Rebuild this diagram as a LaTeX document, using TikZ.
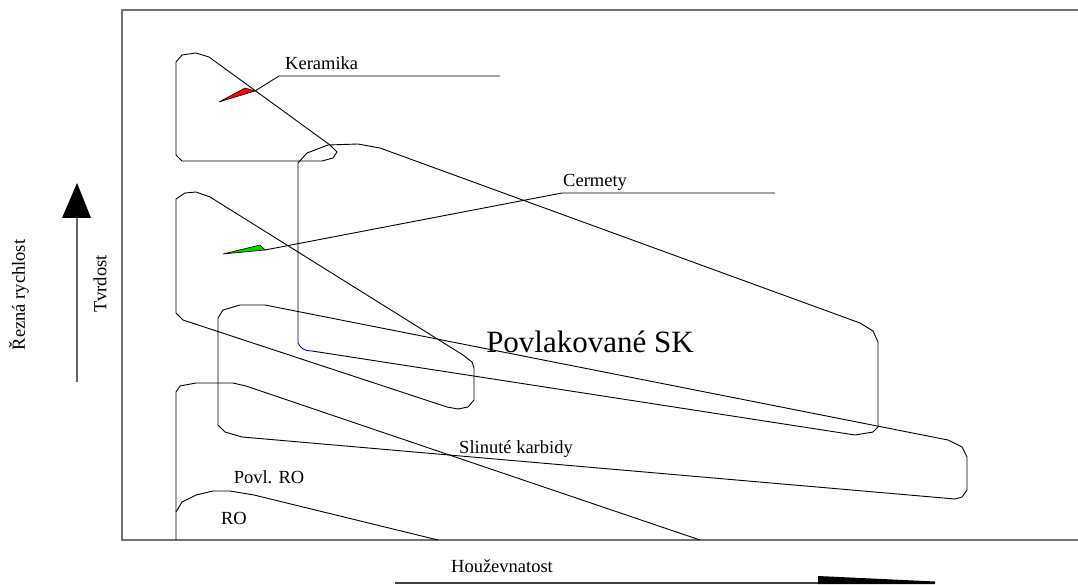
\documentclass[tikz,border=0pt]{standalone}
\usepackage{fontspec}
\setmainfont{Liberation Serif}
\begin{document}
\begin{tikzpicture}[x=1pt,y=-1pt,
  outline/.style={draw=black, line width=0.9pt, line join=round},
  framestyle/.style={draw=black!55, line width=1.6pt},
  lbl/.style={font=\fontsize{18.5}{20}\selectfont, inner sep=0pt},
  biglbl/.style={font=\fontsize{31}{34}\selectfont, inner sep=0pt},
  leader/.style={draw=black, line width=0.9pt},
  axisline/.style={draw=black!60, line width=1.4pt}]
\useasboundingbox (0,0) rectangle (1078,585);
\fill[white] (0,0) rectangle (1078,585);

% frame
\draw[framestyle] (1078,10) -- (122,10) -- (122,540) -- (1078,540);

% Keramika region
\draw[outline] (176,62) -- (182,55) -- (196,53) -- (209,57) -- (330,145) -- (337,152) -- (333,158) -- (322,161) -- (182,161) -- (176,155) -- cycle;

% Povlakovane SK region
\draw[outline] (312,351) -- (855,435) -- (873,432) -- (878,427) -- (878,342) -- (873,331) -- (860,323) -- (380,148) -- (358,144) -- (328,145) -- (307,153) -- (298,163) -- (298,343);
\draw[blue, line width=0.9pt] (298,343) .. controls (301,349) and (305,351) .. (312,351);

% Cermety region
\draw[outline] (176,199) -- (185,193) -- (196,192) -- (210,197) -- (463,355) -- (472,362) -- (474,368) -- (474,400) -- (468,407) -- (458,409) -- (447,407) -- (183,320) -- (176,313) -- cycle;

% Slinute karbidy region
\draw[outline] (218,318) -- (223,310) -- (240,305) -- (265,305) -- (948,440) -- (962,447) -- (967,457) -- (967,490) -- (962,497) -- (955,499) -- (242,437) -- (225,432) -- (218,425) -- cycle;

% Povl. RO region
\draw[outline] (176,540) -- (176,392) -- (180,386) -- (196,383) -- (233,383) -- (246,386) -- (700,540);

% RO region
\draw[outline] (176,512) -- (182,502) -- (196,495) -- (213,491) -- (230,491) -- (254,495) -- (438,540);

% Keramika callout
\coordinate (kw1) at (219,102);
\coordinate (kw2) at (245,88);
\coordinate (kw3) at (255,91);
\coordinate (kbend) at (279,76);
\coordinate (kend) at (500,76);
\filldraw[fill=red, draw=black, line width=0.6pt] (kw1) -- (kw2) -- (kw3) -- cycle;
\draw[leader] (kw3) -- (kbend) -- (kend);
\node[lbl, anchor=base west] (keramika) at (285,70) {Keramika};

% Cermety callout
\coordinate (cw1) at (223,254);
\coordinate (cw2) at (260,245);
\coordinate (cw3) at (265,250);
\coordinate (cbend) at (562,193);
\coordinate (cend) at (775,193);
\filldraw[fill=green!85!black, draw=black, line width=0.6pt] (cw1) -- (cw2) -- (cw3) -- cycle;
\draw[leader] (cw3) -- (cbend) -- (cend);
\node[lbl, anchor=base west] (cermety) at (563,187) {Cermety};

% labels
\node[biglbl] (povlsk) at (590,342) {Povlakované SK};
\node[lbl] (sk) at (516,449) {Slinuté karbidy};
\node[lbl] (povlro) at (269,477) {Povl. RO};
\node[lbl] (ro) at (234,518) {RO};

% vertical axis arrow
\coordinate (vbot) at (77,382);
\coordinate (vtop) at (77,218);
\draw[axisline] (vbot) -- (vtop);
\fill[black] (62,218) -- (91,218) -- (77,183) -- cycle;
\node[lbl, rotate=90] (rez) at (19,295) {Řezná rychlost};
\node[lbl, rotate=90] (tvr) at (100,284) {Tvrdost};

% horizontal axis arrow
\coordinate (hleft) at (395,583);
\coordinate (hright) at (935,583);
\draw[draw=black!75, line width=1.4pt] (hleft) -- (hright);
\fill[black] (818,576) -- (935,581.5) -- (935,584) -- (818,584) -- cycle;
\node[lbl] (houz) at (502,566) {Houževnatost};
\end{tikzpicture}
\end{document}
